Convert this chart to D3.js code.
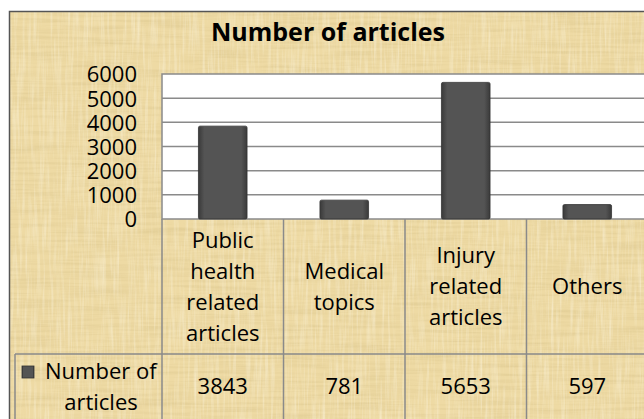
<!DOCTYPE html>
<html lang="en">
<head>
    <meta charset="UTF-8">
    <title>Number of articles</title>
    <script src="https://d3js.org/d3.v7.min.js"></script>
    <style>
        body { margin: 0; background: #fff; }
        svg { display: block; }
    </style>
</head>
<body>
    <script>
var categories = ['Public health related articles', 'Medical topics', 'Injury related articles', 'Others'];
var labelLines = [['Public', 'health', 'related', 'articles'], ['Medical', 'topics'], ['Injury', 'related', 'articles'], ['Others']];
var values = [3843, 781, 5653, 597];
var seriesName = 'Number of articles';
var yTicks = [0, 1000, 2000, 3000, 4000, 5000, 6000];

var width = 644;
var height = 419;
var font = '"Open Sans", Lato, sans-serif';
var lineColor = '#8a8a8a';

var svg = d3.select('body')
            .append('svg')
            .attr('width', width)
            .attr('height', height);

var defs = svg.append('defs');

// parchment fibres
var f1 = defs.append('filter').attr('id', 'fibreH').attr('x', 0).attr('y', 0).attr('width', 1).attr('height', 1);
f1.append('feTurbulence').attr('type', 'fractalNoise').attr('baseFrequency', '0.015 0.35').attr('numOctaves', 3).attr('seed', 4);
f1.append('feColorMatrix').attr('type', 'matrix')
  .attr('values', '0 0 0 0 0.6  0 0 0 0 0.47  0 0 0 0 0.2  1.4 0 0 0 -0.55');
var f2 = defs.append('filter').attr('id', 'fibreV').attr('x', 0).attr('y', 0).attr('width', 1).attr('height', 1);
f2.append('feTurbulence').attr('type', 'fractalNoise').attr('baseFrequency', '0.35 0.02').attr('numOctaves', 3).attr('seed', 9);
f2.append('feColorMatrix').attr('type', 'matrix')
  .attr('values', '0 0 0 0 1  0 0 0 0 0.97  0 0 0 0 0.85  1.4 0 0 0 -0.6');

var barGrad = defs.append('linearGradient').attr('id', 'barGrad');
barGrad.append('stop').attr('offset', '0%').attr('stop-color', '#3a3a3a');
barGrad.append('stop').attr('offset', '12%').attr('stop-color', '#545454');
barGrad.append('stop').attr('offset', '88%').attr('stop-color', '#545454');
barGrad.append('stop').attr('offset', '100%').attr('stop-color', '#3a3a3a');

// background
var bg = svg.append('g');
bg.append('rect').attr('x', 9).attr('y', 11).attr('width', width).attr('height', height)
  .attr('fill', '#eedaa4');
bg.append('rect').attr('x', 9).attr('y', 11).attr('width', width).attr('height', height)
  .attr('filter', 'url(#fibreH)').attr('opacity', 0.45);
bg.append('rect').attr('x', 9).attr('y', 11).attr('width', width).attr('height', height)
  .attr('filter', 'url(#fibreV)').attr('opacity', 0.6);
bg.append('path').attr('d', 'M9.5,' + height + 'V11.5H' + width)
  .attr('fill', 'none').attr('stroke', '#555').attr('stroke-width', 1.5);

// title
svg.append('text')
   .attr('x', 328).attr('y', 41)
   .attr('text-anchor', 'middle')
   .attr('font-family', font).attr('font-weight', 'bold').attr('font-size', 25)
   .attr('fill', '#000')
   .text(seriesName);

var xScale = d3.scaleBand()
               .domain(categories)
               .range([162, 648]);

var yScale = d3.scaleLinear()
               .domain([0, 6000])
               .range([219, 74]);

// plot area
svg.append('rect')
   .attr('x', xScale.range()[0]).attr('y', yScale(6000))
   .attr('width', xScale.range()[1] - xScale.range()[0])
   .attr('height', yScale(0) - yScale(6000))
   .attr('fill', '#fff').attr('stroke', lineColor).attr('stroke-width', 1.5);

svg.append('g')
   .selectAll('line')
   .data(yTicks.slice(1, -1))
   .join('line')
   .attr('x1', xScale.range()[0]).attr('x2', xScale.range()[1])
   .attr('y1', function(d) { return yScale(d); })
   .attr('y2', function(d) { return yScale(d); })
   .attr('stroke', lineColor).attr('stroke-width', 1.5);

// y axis labels
var yAxis = d3.axisLeft(yScale).tickValues(yTicks).tickFormat(d3.format('d')).tickSize(0).tickPadding(0);
var yG = svg.append('g')
   .attr('transform', 'translate(137,0)')
   .call(yAxis);
yG.select('.domain').remove();
yG.selectAll('text')
  .attr('font-family', font).attr('font-size', 22).attr('fill', '#000')
  .attr('dy', '0.36em');

// bars
var barW = xScale.bandwidth() * 0.4;
svg.append('g')
   .selectAll('rect')
   .data(values)
   .join('rect')
   .attr('x', function(d, i) { return xScale(categories[i]) + (xScale.bandwidth() - barW) / 2; })
   .attr('y', function(d) { return yScale(d); })
   .attr('width', barW)
   .attr('height', function(d) { return yScale(0) - yScale(d); })
   .attr('rx', 1.5)
   .attr('fill', 'url(#barGrad)')
   .attr('stroke', '#333').attr('stroke-width', 0.8);

// data table
var rowTop = yScale(0);
var rowMid = 354;
var table = svg.append('g').attr('stroke', lineColor).attr('stroke-width', 1.5);
table.append('line').attr('x1', 15).attr('x2', 648).attr('y1', rowMid).attr('y2', rowMid);
table.append('line').attr('x1', 15).attr('x2', 15).attr('y1', rowMid).attr('y2', height);
table.selectAll('.col')
     .data(categories.concat(['end']))
     .join('line')
     .attr('class', 'col')
     .attr('x1', function(d, i) { return xScale.range()[0] + i * xScale.bandwidth(); })
     .attr('x2', function(d, i) { return xScale.range()[0] + i * xScale.bandwidth(); })
     .attr('y1', rowTop).attr('y2', height);

var lh = 31;
var catG = svg.append('g')
   .selectAll('text')
   .data(labelLines)
   .join('text')
   .attr('text-anchor', 'middle')
   .attr('font-family', font).attr('font-size', 22).attr('fill', '#000')
   .attr('transform', function(d, i) {
       var cy = (rowTop + rowMid) / 2 - (d.length - 1) * lh / 2;
       return 'translate(' + (xScale(categories[i]) + xScale.bandwidth() / 2) + ',' + cy + ')';
   });
catG.selectAll('tspan')
    .data(function(d) { return d; })
    .join('tspan')
    .attr('x', 0)
    .attr('y', function(d, j) { return j * lh; })
    .attr('dy', '0.36em')
    .text(function(d) { return d; });

svg.append('g')
   .selectAll('text')
   .data(values)
   .join('text')
   .attr('x', function(d, i) { return xScale(categories[i]) + xScale.bandwidth() / 2; })
   .attr('y', 386)
   .attr('dy', '0.36em')
   .attr('text-anchor', 'middle')
   .attr('font-family', font).attr('font-size', 22).attr('fill', '#000')
   .text(function(d) { return d; });

// legend key
svg.append('rect')
   .attr('x', 22).attr('y', 366).attr('width', 12).attr('height', 12)
   .attr('fill', 'url(#barGrad)').attr('stroke', '#333').attr('stroke-width', 0.8);
svg.append('text')
   .attr('x', 45).attr('y', 371).attr('dy', '0.36em')
   .attr('font-family', font).attr('font-size', 22).attr('fill', '#000')
   .text('Number of');
svg.append('text')
   .attr('x', 101).attr('y', 402).attr('dy', '0.36em')
   .attr('text-anchor', 'middle')
   .attr('font-family', font).attr('font-size', 22).attr('fill', '#000')
   .text('articles');
    </script>
</body>
</html>
